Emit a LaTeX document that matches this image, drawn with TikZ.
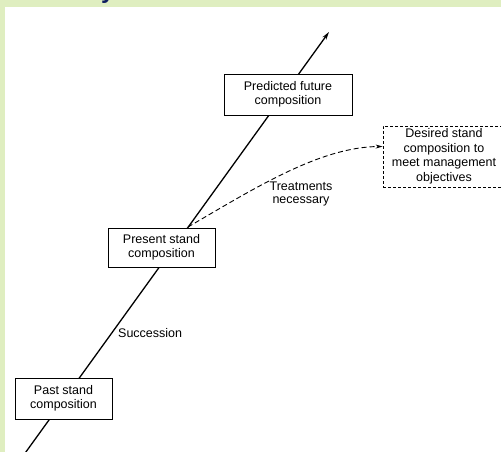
\documentclass[tikz,border=0pt]{standalone}
\usepackage{fontspec}
\setmainfont{Liberation Sans}
\usetikzlibrary{arrows.meta}
\definecolor{bandgreen}{RGB}{223,238,192}
\definecolor{titleblue}{RGB}{15,30,95}
\begin{document}
\begin{tikzpicture}[x=1pt,y=-1pt,
  box/.style={draw, line width=0.8pt, fill=white, align=center, inner sep=0pt, font=\fontsize{12.5}{13.5}\selectfont},
  dbox/.style={box, dash pattern=on 3pt off 2pt, font=\fontsize{12.5}{14.5}\selectfont},
  lbl/.style={align=center, inner sep=0pt, font=\fontsize{12.5}{13}\selectfont},
  mainline/.style={line width=1.3pt, -{Stealth[length=8pt,width=4.5pt]}},
  dashline/.style={line width=0.9pt, dash pattern=on 5pt off 3pt, -{Stealth[length=7pt,width=4pt]}}]
\useasboundingbox (0,0) rectangle (501,452);
\clip (0,0) rectangle (501,452);
\fill[white] (0,0) rectangle (501,452);
\fill[bandgreen] (0,0) rectangle (501,7);
\fill[bandgreen] (0,0) rectangle (5,452);
\node[anchor=base west, inner sep=0pt, text=titleblue, font=\fontsize{24}{24}\selectfont\bfseries] (title) at (101,-1) {y};
% main succession line
\coordinate (start) at (23,456);
\coordinate (tip) at (329,32);
\draw[mainline] (start) -- (tip);
% boxes
\node[box, minimum width=97pt, minimum height=41pt] (past) at (63.5,398.5) {Past stand\\composition};
\node[box, minimum width=107pt, minimum height=39pt] (present) at (161.5,247.5) {Present stand\\composition};
\node[box, minimum width=128pt, minimum height=41pt] (predicted) at (288,94.5) {Predicted future\\composition};
\node[dbox, minimum width=122pt, minimum height=61pt] (desired) at (444,156.5) {Desired stand\\composition to\\meet management\\objectives};
% treatments arrow
\coordinate (tstart) at (188,227);
\draw[dashline] (tstart) .. controls (255,188) and (320,147) .. ([yshift=10pt]desired.west);
% labels
\node[lbl] (treat) at (301,194) {Treatments\\necessary};
\node[lbl, anchor=west] (succ) at (118,333) {Succession};
\end{tikzpicture}
\end{document}
